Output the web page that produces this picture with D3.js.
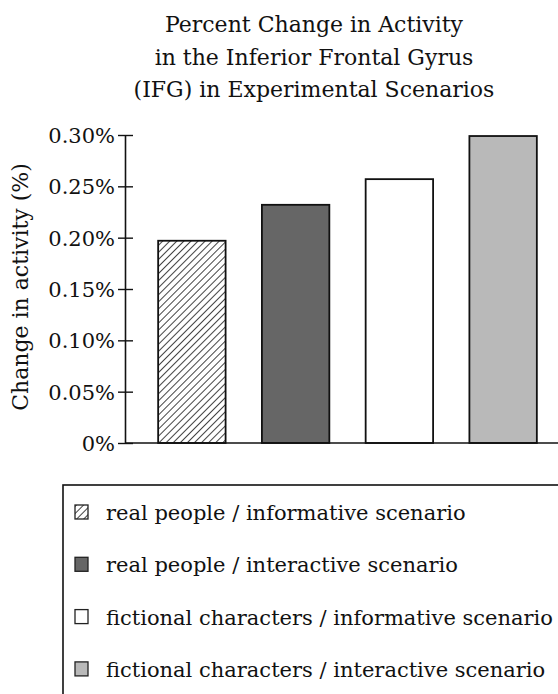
<!DOCTYPE html>
<html>
<head>
<meta charset="utf-8">
<script src="https://cdn.jsdelivr.net/npm/d3@7"></script>
<style>
body { margin: 0; background: #fff; }
svg { display: block; }
text { font-family: "DejaVu Serif", "Liberation Serif", serif; fill: #111; }
</style>
</head>
<body>
<svg width="558" height="694"></svg>
<script>
// data
var categories = ["real people / informative scenario",
                  "real people / interactive scenario",
                  "fictional characters / informative scenario",
                  "fictional characters / interactive scenario"];
var values = [0.197, 0.232, 0.257, 0.299];
var fills = ["url(#hatch)", "#666666", "#ffffff", "#b9b9b9"];
var yTicks = [0, 0.05, 0.10, 0.15, 0.20, 0.25, 0.30];
var yTickLabels = ["0%", "0.05%", "0.10%", "0.15%", "0.20%", "0.25%", "0.30%"];
var titleLines = ["Percent Change in Activity",
                  "in the Inferior Frontal Gyrus",
                  "(IFG) in Experimental Scenarios"];

var svg = d3.select("svg");

var defs = svg.append("defs");
var pat = defs.append("pattern")
    .attr("id", "hatch")
    .attr("patternUnits", "userSpaceOnUse")
    .attr("width", 5).attr("height", 5)
    .attr("patternTransform", "rotate(45)");
pat.append("rect").attr("width", 5).attr("height", 5).attr("fill", "#fff");
pat.append("line")
    .attr("x1", 0).attr("y1", 0).attr("x2", 0).attr("y2", 5)
    .attr("stroke", "#222").attr("stroke-width", 1.7);

var x = d3.scaleBand()
    .domain(categories)
    .range([140, 555])
    .paddingInner(0.35)
    .paddingOuter(0.175);

var y = d3.scaleLinear()
    .domain([0, 0.30])
    .range([443, 135]);

// title
svg.append("g").selectAll("text")
    .data(titleLines)
    .enter().append("text")
    .attr("x", 314)
    .attr("y", function(d, i) { return 32 + i * 32.5; })
    .attr("text-anchor", "middle")
    .style("font-size", "22px")
    .text(function(d) { return d; });

// bars
svg.append("g").selectAll("rect")
    .data(values)
    .enter().append("rect")
    .attr("x", function(d, i) { return x(categories[i]); })
    .attr("width", x.bandwidth())
    .attr("y", function(d) { return y(d); })
    .attr("height", function(d) { return y(0) - y(d); })
    .attr("fill", function(d, i) { return fills[i]; })
    .attr("stroke", "#111")
    .attr("stroke-width", 1.8);

// y axis
var yAxis = svg.append("g")
    .attr("transform", "translate(125,0)")
    .call(d3.axisLeft(y)
        .tickValues(yTicks)
        .tickFormat(function(d, i) { return yTickLabels[i]; })
        .tickSizeInner(7)
        .tickSizeOuter(0)
        .tickPadding(3));
yAxis.select(".domain").attr("stroke", "#111").attr("stroke-width", 1.6);
yAxis.selectAll(".tick line")
    .attr("x1", 8).attr("x2", -7)
    .attr("stroke", "#111").attr("stroke-width", 1.4);
yAxis.selectAll(".tick text")
    .attr("x", -10)
    .attr("dy", "0.35em")
    .style("font-size", "21px")
    .style("font-family", "'DejaVu Serif', serif")
    .attr("fill", "#111");

// x axis baseline
svg.append("line")
    .attr("x1", 125).attr("x2", 558)
    .attr("y1", y(0)).attr("y2", y(0))
    .attr("stroke", "#111").attr("stroke-width", 1.6);

// y label
svg.append("text")
    .attr("transform", "translate(28,287) rotate(-90)")
    .attr("text-anchor", "middle")
    .style("font-size", "22px")
    .text("Change in activity (%)");

// legend
svg.append("rect")
    .attr("x", 63).attr("y", 485)
    .attr("width", 520).attr("height", 230)
    .attr("fill", "none")
    .attr("stroke", "#111").attr("stroke-width", 1.6);

var leg = svg.append("g").selectAll("g")
    .data(categories)
    .enter().append("g")
    .attr("transform", function(d, i) { return "translate(75," + (520 + i * 52.3) + ")"; });

leg.append("rect")
    .attr("x", 0).attr("y", -15)
    .attr("width", 13).attr("height", 14)
    .attr("fill", function(d, i) { return fills[i]; })
    .attr("stroke", "#222")
    .attr("stroke-width", 1.3);

leg.append("text")
    .attr("x", 31)
    .attr("y", 0)
    .style("font-size", "21px")
    .text(function(d) { return d; });
</script>
</body>
</html>
